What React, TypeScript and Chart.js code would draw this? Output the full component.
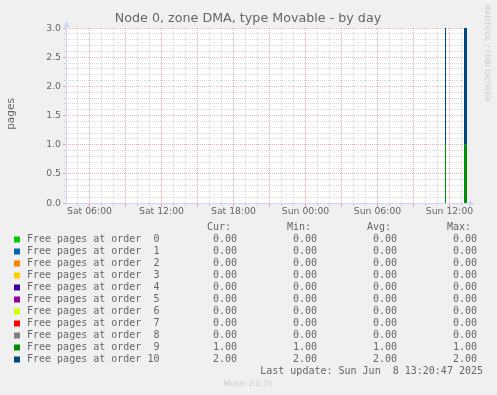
import React, { useEffect, useRef } from "react";
import { Chart, registerables } from "chart.js";

Chart.register(...registerables);

// ---- Data ----
const TITLE = "Node 0, zone DMA, type Movable - by day";
const Y_LABEL = "pages";
const SIDE_LABEL = "RRDTOOL / TOBI OETIKER";
const FOOTER = "Munin 2.0.76";
const LAST_UPDATE = "Last update: Sun Jun  8 13:20:47 2025";

const SERIES_NAMES = [
  "Free pages at order  0",
  "Free pages at order  1",
  "Free pages at order  2",
  "Free pages at order  3",
  "Free pages at order  4",
  "Free pages at order  5",
  "Free pages at order  6",
  "Free pages at order  7",
  "Free pages at order  8",
  "Free pages at order  9",
  "Free pages at order 10",
];
const SERIES_COLORS = [
  "#00CC00", "#0066B3", "#FF8000", "#FFCC00", "#330099", "#990099",
  "#CCFF00", "#FF0000", "#808080", "#008F00", "#00487D",
];
const CUR = [0, 0, 0, 0, 0, 0, 0, 0, 0, 1, 2];
const MIN = [0, 0, 0, 0, 0, 0, 0, 0, 0, 1, 2];
const AVG = [0, 0, 0, 0, 0, 0, 0, 0, 0, 1, 2];
const MAX = [0, 0, 0, 0, 0, 0, 0, 0, 0, 1, 2];

// time in minutes since Sat 00:00
const SEGMENT_STARTS = [2140, 2235]; // Sun 11:40, Sun 13:15
const SEGMENT_ENDS = [2145, 2250]; // Sun 11:45, Sun 13:30
// value of each series inside each segment
const SEGMENT_VALUES = [
  [0, 0], [0, 0], [0, 0], [0, 0], [0, 0], [0, 0],
  [0, 0], [0, 0], [0, 0], [1, 1], [2, 2],
];

const X_MIN = 245; // Sat 04:05
const X_MAX = 2250; // Sun 13:30
const X_TICK_VALUES = [360, 720, 1080, 1440, 1800, 2160];
const X_TICK_LABELS = ["Sat 06:00", "Sat 12:00", "Sat 18:00", "Sun 00:00", "Sun 06:00", "Sun 12:00"];
const Y_TICK_VALUES = [0, 0.5, 1, 1.5, 2, 2.5, 3];
const Y_TICK_LABELS = ["0.0", "0.5", "1.0", "1.5", "2.0", "2.5", "3.0"];
const Y_MAX = 3;

// ---- Styles ----
const W = 497;
const H = 395;
const FONT_COLOR = "#666666";
const AXIS_COLOR = "#CFD6F8";
const GRID_COLOR = "rgba(190,190,190,0.6)";
const MGRID_COLOR = "rgba(220,100,100,0.5)";
const SANS = "'DejaVu Sans', sans-serif";
const MONO = "'DejaVu Sans Mono', monospace";

function buildSeries(i: number) {
  const pts: { x: number; y: number | null }[] = [];
  for (let j = 0; j < SEGMENT_STARTS.length; j++) {
    const v = SEGMENT_VALUES[i][j];
    pts.push({ x: SEGMENT_STARTS[j], y: v });
    pts.push({ x: SEGMENT_ENDS[j], y: v });
    if (j < SEGMENT_STARTS.length - 1) {
      pts.push({ x: (SEGMENT_ENDS[j] + SEGMENT_STARTS[j + 1]) / 2, y: null });
    }
  }
  return pts;
}

const muninPlugin = {
  id: "munin",
  beforeDraw(chart: any) {
    const ctx = chart.ctx as CanvasRenderingContext2D;
    const a = chart.chartArea;
    ctx.save();
    ctx.fillStyle = "#F0F0F0";
    ctx.fillRect(0, 0, W, H);
    ctx.fillStyle = "#FFFFFF";
    ctx.fillRect(a.left, a.top, a.right - a.left, a.bottom - a.top + 1);
    ctx.restore();
  },
  beforeDatasetsDraw(chart: any) {
    const ctx = chart.ctx as CanvasRenderingContext2D;
    const a = chart.chartArea;
    const xs = chart.scales.x;
    const ys = chart.scales.y;
    ctx.save();
    ctx.lineWidth = 1;
    const startH = Math.ceil(X_MIN / 60) * 60;
    const drawV = (v: number, color: string, tick: number) => {
      const px = Math.floor(xs.getPixelForValue(v)) + 0.5;
      ctx.strokeStyle = color;
      ctx.setLineDash([1, 1]);
      ctx.beginPath();
      ctx.moveTo(px, a.top);
      ctx.lineTo(px, a.bottom);
      ctx.stroke();
      ctx.setLineDash([]);
      ctx.beginPath();
      ctx.moveTo(px, a.bottom + 1);
      ctx.lineTo(px, a.bottom + 1 + tick);
      ctx.stroke();
    };
    const drawH = (v: number, color: string, tick: number) => {
      const py = Math.floor(ys.getPixelForValue(v)) + 0.5;
      ctx.strokeStyle = color;
      ctx.setLineDash([1, 1]);
      ctx.beginPath();
      ctx.moveTo(a.left, py);
      ctx.lineTo(a.right, py);
      ctx.stroke();
      ctx.setLineDash([]);
      ctx.beginPath();
      ctx.moveTo(a.left - tick, py);
      ctx.lineTo(a.left, py);
      ctx.stroke();
    };
    for (let t = startH; t <= X_MAX; t += 60) {
      if (t % 180 !== 0) drawV(t, GRID_COLOR, 2);
    }
    for (let k = 1; k <= Y_MAX * 10; k++) {
      if (k % 5 !== 0) drawH(k / 10, GRID_COLOR, 2);
    }
    for (let t = startH; t <= X_MAX; t += 60) {
      if (t % 180 === 0) drawV(t, MGRID_COLOR, 3);
    }
    for (const v of Y_TICK_VALUES) drawH(v, MGRID_COLOR, 3);
    ctx.restore();
  },
  afterDraw(chart: any) {
    const ctx = chart.ctx as CanvasRenderingContext2D;
    const a = chart.chartArea;
    const xs = chart.scales.x;
    const ys = chart.scales.y;
    ctx.save();
    // axes
    const ax = a.left + 0.5;
    const ay = Math.floor(ys.getPixelForValue(0)) + 0.5;
    ctx.strokeStyle = AXIS_COLOR;
    ctx.fillStyle = AXIS_COLOR;
    ctx.lineWidth = 1;
    ctx.beginPath();
    ctx.moveTo(ax, ay);
    ctx.lineTo(ax, a.top - 4);
    ctx.moveTo(ax, ay);
    ctx.lineTo(a.right + 2, ay);
    ctx.stroke();
    ctx.beginPath();
    ctx.moveTo(ax, a.top - 7);
    ctx.lineTo(ax - 3, a.top - 1);
    ctx.lineTo(ax + 3, a.top - 1);
    ctx.closePath();
    ctx.fill();
    ctx.beginPath();
    ctx.moveTo(a.right + 8, ay);
    ctx.lineTo(a.right + 2, ay - 3);
    ctx.lineTo(a.right + 2, ay + 3);
    ctx.closePath();
    ctx.fill();

    // title
    ctx.fillStyle = FONT_COLOR;
    ctx.textBaseline = "middle";
    ctx.textAlign = "center";
    ctx.font = `12.7px ${SANS}`;
    ctx.fillText(TITLE, 248, 19);

    // tick labels
    ctx.font = `9.3px ${SANS}`;
    X_TICK_VALUES.forEach((v, i) => {
      ctx.fillText(X_TICK_LABELS[i], Math.floor(xs.getPixelForValue(v)) + 0.5, 212);
    });
    ctx.textAlign = "right";
    Y_TICK_VALUES.forEach((v, i) => {
      ctx.fillText(Y_TICK_LABELS[i], 61, Math.floor(ys.getPixelForValue(v)) + 0.5);
    });

    // y label
    ctx.save();
    ctx.translate(11, 114);
    ctx.rotate(-Math.PI / 2);
    ctx.textAlign = "center";
    ctx.font = `10.5px ${SANS}`;
    ctx.fillText(Y_LABEL, 0, 0);
    ctx.restore();

    // side label
    ctx.save();
    ctx.translate(487, 5);
    ctx.rotate(Math.PI / 2);
    ctx.textAlign = "left";
    ctx.fillStyle = "#CCCCCC";
    ctx.font = `7.5px ${SANS}`;
    ctx.fillText(SIDE_LABEL, 0, 0);
    ctx.restore();

    // legend
    ctx.font = `10px ${MONO}`;
    ctx.fillStyle = FONT_COLOR;
    ctx.textAlign = "right";
    const headY = 227;
    ctx.fillText("Cur:", 231, headY);
    ctx.fillText("Min:", 311, headY);
    ctx.fillText("Avg:", 391, headY);
    ctx.fillText("Max:", 471, headY);
    SERIES_NAMES.forEach((name, i) => {
      const y = 239 + i * 12;
      ctx.fillStyle = SERIES_COLORS[i];
      ctx.fillRect(14, y - 2.5, 6, 6);
      ctx.fillStyle = FONT_COLOR;
      ctx.textAlign = "left";
      ctx.fillText(name, 27, y);
      ctx.textAlign = "right";
      ctx.fillText(CUR[i].toFixed(2), 237, y);
      ctx.fillText(MIN[i].toFixed(2), 317, y);
      ctx.fillText(AVG[i].toFixed(2), 397, y);
      ctx.fillText(MAX[i].toFixed(2), 477, y);
    });
    ctx.fillText(LAST_UPDATE, 483, 371);

    // footer
    ctx.textAlign = "center";
    ctx.fillStyle = "#CCCCCC";
    ctx.font = `7.5px ${SANS}`;
    ctx.fillText(FOOTER, 248, 384);
    ctx.restore();
  },
};

export default function App() {
  const ref = useRef<HTMLCanvasElement | null>(null);
  useEffect(() => {
    document.body.style.margin = "0";
    document.body.style.background = "#F0F0F0";
    const canvas = ref.current;
    if (!canvas) return;
    const datasets = SERIES_NAMES.map((name, i) => ({
      label: name,
      data: buildSeries(i),
      backgroundColor: SERIES_COLORS[i],
      borderColor: "transparent",
      borderWidth: 0,
      pointRadius: 0,
      tension: 0,
      spanGaps: false,
      fill: i === 0 ? "origin" : "-1",
    }));
    const chart = new Chart(canvas, {
      type: "line",
      data: { datasets } as any,
      options: {
        animation: false,
        responsive: false,
        devicePixelRatio: 1,
        events: [],
        layout: { padding: { left: 66, right: 30, top: 28, bottom: 192 } },
        scales: {
          x: { type: "linear", min: X_MIN, max: X_MAX, display: false },
          y: { type: "linear", min: 0, max: Y_MAX, stacked: true, display: false },
        },
        plugins: {
          legend: { display: false },
          tooltip: { enabled: false },
          title: { display: false },
        },
      } as any,
      plugins: [muninPlugin],
    });
    return () => chart.destroy();
  }, []);
  return (
    <canvas
      ref={ref}
      width={W}
      height={H}
      style={{ display: "block", width: W, height: H }}
    />
  );
}
